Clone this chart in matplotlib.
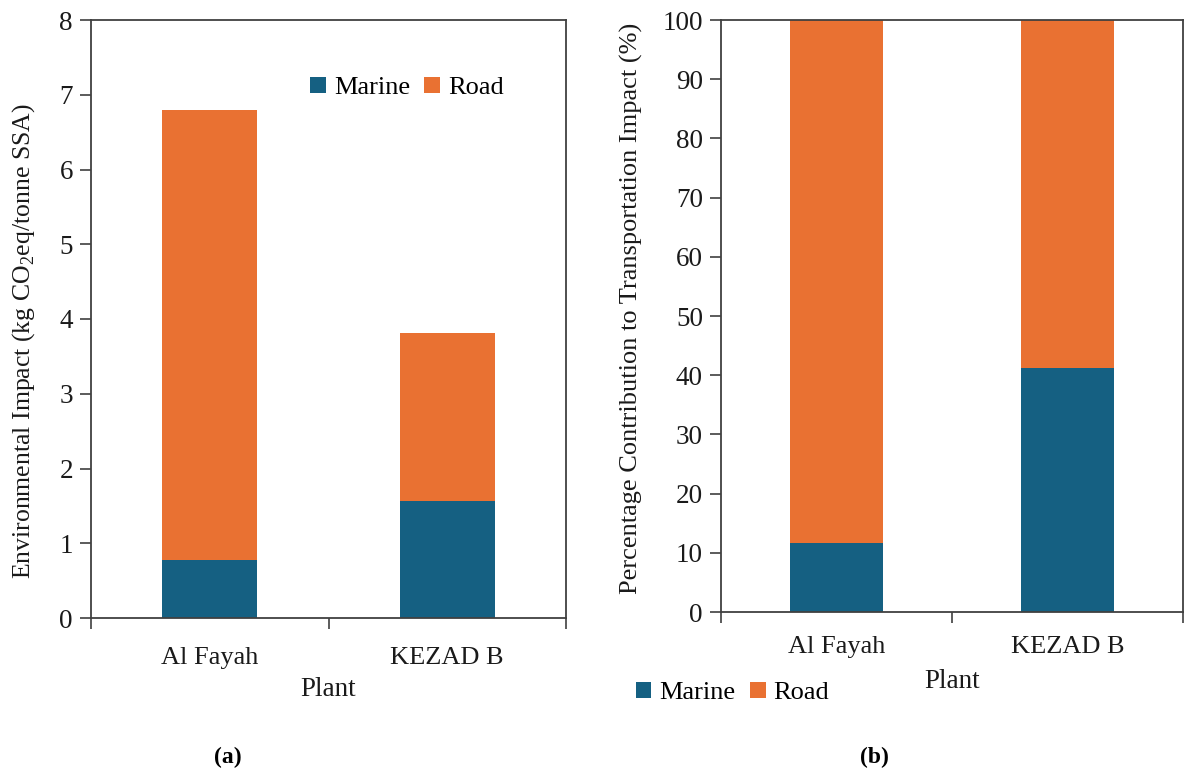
import matplotlib
matplotlib.use("Agg")
import matplotlib.pyplot as plt
import numpy as np

plants = ["Al Fayah", "KEZAD B"]
series = ["Marine", "Road"]
impact_marine = [0.77, 1.56]
impact_road = [6.03, 2.25]
pct_marine = [11.6, 41.2]
pct_road = [88.4, 58.8]
yticks_a = [0, 1, 2, 3, 4, 5, 6, 7, 8]
yticks_b = [0, 10, 20, 30, 40, 50, 60, 70, 80, 90, 100]

C_MARINE = "#156082"
C_ROAD = "#E97132"
SPINE = "#404040"
TXT = "#1a1a1a"

plt.rcParams["font.family"] = ["Liberation Serif", "DejaVu Serif"]
plt.rcParams["mathtext.fontset"] = "custom"
plt.rcParams["mathtext.rm"] = "Liberation Serif"

fig = plt.figure(figsize=(11.84, 7.73), dpi=100)
W, H = 1184, 773
def box(l, t, r, b):
    return [l / W, 1 - b / H, (r - l) / W, (b - t) / H]

axa = fig.add_axes(box(91, 20, 566, 618))
axb = fig.add_axes(box(721, 20, 1183, 612))

x = np.arange(len(plants))
bw = 0.40

def style(ax, yticks, xpad):
    ax.set_xlim(-0.5, 1.5)
    ax.set_ylim(yticks[0], yticks[-1])
    ax.set_yticks(yticks)
    ax.set_xticks([-0.5, 0.5, 1.5])
    ax.set_xticklabels([])
    ax.set_xticks(x, minor=True)
    ax.set_xticklabels(plants, minor=True)
    ax.tick_params(axis="x", which="major", direction="out", length=8, width=1.2, color=SPINE)
    ax.tick_params(axis="x", which="minor", length=0, pad=xpad, labelsize=19, labelcolor=TXT)
    ax.tick_params(axis="y", direction="out", length=8, width=1.2, color=SPINE, labelsize=19.5, labelcolor=TXT, pad=5)
    for s in ax.spines.values():
        s.set_color(SPINE)
        s.set_linewidth(1.3)

leg_kw = dict(ncol=2, frameon=False, fontsize=19, handlelength=0.6, handleheight=0.6,
              handletextpad=0.3, columnspacing=0.55, borderpad=0, borderaxespad=0)

# Panel (a)
axa.bar(x, impact_marine, bw, color=C_MARINE, label=series[0])
axa.bar(x, impact_road, bw, bottom=impact_marine, color=C_ROAD, label=series[1])
style(axa, yticks_a, 21)
axa.set_ylabel(r"Environmental Impact (kg CO$_2$eq/tonne SSA)", fontsize=18.5, color=TXT)
axa.yaxis.set_label_coords((37 - 91) / 475, (618 - 341) / 598)
axa.set_xlabel("Plant", fontsize=19.5, color=TXT, labelpad=6)
axa.legend(loc="center", bbox_to_anchor=(((316 + 498) / 2 - 91) / 475, (618 - 88) / 598), **leg_kw)

# Panel (b)
axb.bar(x, pct_marine, bw, color=C_MARINE, label=series[0])
axb.bar(x, pct_road, bw, bottom=pct_marine, color=C_ROAD, label=series[1])
style(axb, yticks_b, 17)
axb.set_ylabel("Percentage Contribution to Transportation Impact (%)", fontsize=19, color=TXT)
axb.yaxis.set_label_coords((643 - 721) / 462, (612 - 308) / 592)
axb.set_xlabel("Plant", fontsize=19.5, color=TXT, labelpad=8)
axb.legend(loc="center", bbox_to_anchor=(((632 + 833) / 2 - 721) / 462, -(693 - 612) / 592), **leg_kw)

fig.text(228 / W, 1 - 757 / H, "(a)", ha="center", va="center", fontsize=17, fontweight="bold")
fig.text(874 / W, 1 - 757 / H, "(b)", ha="center", va="center", fontsize=17, fontweight="bold")

fig.savefig("out.png", dpi=100)
